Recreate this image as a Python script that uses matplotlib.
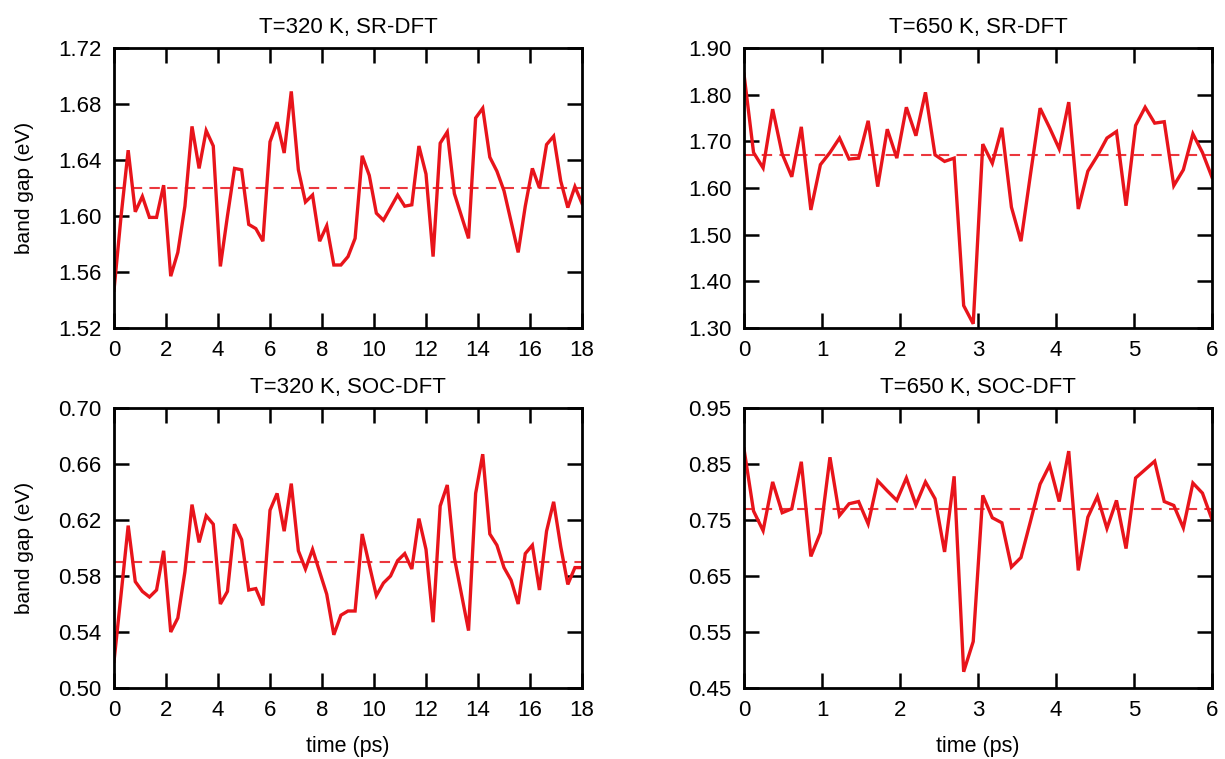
import numpy as np
import matplotlib
matplotlib.use('Agg')
import matplotlib.pyplot as plt

plt.rcParams['font.family'] = ['Liberation Sans', 'DejaVu Sans']

# band gap (eV) along the MD trajectories
gap_320_sr = [1.547, 1.600, 1.647, 1.603, 1.614, 1.599, 1.599, 1.622, 1.557, 1.574,
              1.607, 1.664, 1.634, 1.661, 1.650, 1.564, 1.600, 1.634, 1.633, 1.594,
              1.591, 1.582, 1.653, 1.667, 1.645, 1.689, 1.633, 1.610, 1.615, 1.582,
              1.593, 1.565, 1.565, 1.571, 1.584, 1.643, 1.629, 1.602, 1.597, 1.606,
              1.615, 1.607, 1.608, 1.650, 1.630, 1.571, 1.652, 1.660, 1.616, 1.600,
              1.584, 1.670, 1.677, 1.642, 1.632, 1.618, 1.596, 1.574, 1.607, 1.634,
              1.620, 1.651, 1.657, 1.625, 1.606, 1.621, 1.609]

gap_320_soc = [0.519, 0.567, 0.616, 0.576, 0.569, 0.565, 0.570, 0.598, 0.540, 0.550,
               0.583, 0.631, 0.604, 0.623, 0.617, 0.560, 0.569, 0.617, 0.606, 0.570,
               0.571, 0.559, 0.627, 0.639, 0.612, 0.646, 0.598, 0.585, 0.599, 0.583,
               0.567, 0.538, 0.552, 0.555, 0.555, 0.610, 0.588, 0.566, 0.575, 0.580,
               0.591, 0.596, 0.585, 0.621, 0.599, 0.547, 0.630, 0.645, 0.593, 0.567,
               0.541, 0.639, 0.667, 0.610, 0.602, 0.586, 0.577, 0.560, 0.596, 0.602,
               0.570, 0.612, 0.633, 0.601, 0.574, 0.586, 0.586]

gap_650_sr = [1.844, 1.676, 1.643, 1.769, 1.673, 1.624, 1.731, 1.553, 1.650, 1.676,
              1.707, 1.662, 1.664, 1.744, 1.603, 1.726, 1.664, 1.773, 1.712, 1.805,
              1.671, 1.657, 1.664, 1.348, 1.309, 1.694, 1.653, 1.729, 1.559, 1.486,
              1.630, 1.771, 1.729, 1.684, 1.784, 1.555, 1.636, 1.669, 1.707, 1.721,
              1.562, 1.734, 1.773, 1.739, 1.742, 1.605, 1.639, 1.716, 1.676, 1.623]

gap_650_soc = [0.877, 0.766, 0.731, 0.818, 0.763, 0.770, 0.854, 0.685, 0.727, 0.862,
               0.758, 0.779, 0.783, 0.743, 0.820, 0.802, 0.785, 0.825, 0.777, 0.818,
               0.788, 0.693, 0.828, 0.479, 0.533, 0.794, 0.754, 0.745, 0.666, 0.683,
               0.748, 0.814, 0.848, 0.783, 0.873, 0.660, 0.755, 0.792, 0.735, 0.785,
               0.699, 0.825, 0.840, 0.855, 0.783, 0.776, 0.736, 0.816, 0.798, 0.751]

# time-averaged gaps (dashed lines)
mean_320_sr, mean_320_soc = 1.62, 0.59
mean_650_sr, mean_650_soc = 1.67, 0.77

titles = ['T=320 K, SR-DFT', 'T=650 K, SR-DFT', 'T=320 K, SOC-DFT', 'T=650 K, SOC-DFT']

t_320 = np.linspace(0, 18, len(gap_320_sr))
t_650 = np.linspace(0, 6, len(gap_650_sr))

panels = [
    (t_320, gap_320_sr, mean_320_sr, (0, 18), np.arange(0, 19, 2), (1.52, 1.72), np.arange(1.52, 1.7201, 0.04)),
    (t_650, gap_650_sr, mean_650_sr, (0, 6), np.arange(0, 7, 1), (1.30, 1.90), np.arange(1.30, 1.9001, 0.10)),
    (t_320, gap_320_soc, mean_320_soc, (0, 18), np.arange(0, 19, 2), (0.50, 0.70), np.arange(0.50, 0.7001, 0.04)),
    (t_650, gap_650_soc, mean_650_soc, (0, 6), np.arange(0, 7, 1), (0.45, 0.95), np.arange(0.45, 0.9501, 0.10)),
]

W, H = 1225, 759
fig = plt.figure(figsize=(W / 100, H / 100), dpi=100)

# axes boxes in pixels: left, top, right, bottom
boxes = [(114, 48, 582, 328), (744, 48, 1212, 328),
         (114, 408, 582, 688), (744, 408, 1212, 688)]

red = '#e8141b'
for i, (box, p) in enumerate(zip(boxes, panels)):
    t, gap, mean, xlim, xticks, ylim, yticks = p
    l, tp, r, b = box
    ax = fig.add_axes([l / W, 1 - b / H, (r - l) / W, (b - tp) / H])

    ax.plot(t, gap, color=red, lw=2.4, solid_joinstyle='miter')
    ax.axhline(mean, color=red, lw=1.5, dashes=(5, 3.5), alpha=0.85)

    ax.set_xlim(*xlim)
    ax.set_ylim(*ylim)
    ax.set_xticks(xticks)
    ax.set_yticks(yticks)
    ax.set_yticklabels(['%.2f' % v for v in yticks])

    ax.tick_params(direction='in', length=11, width=1.8, top=True, right=True,
                   labelsize=16, pad=9, color='black')
    for s in ax.spines.values():
        s.set_linewidth(2.0)

    ax.set_title(titles[i], fontsize=16, pad=11)
    if i % 2 == 0:
        ax.set_ylabel('band gap (eV)', fontsize=15)
        ax.yaxis.set_label_coords(-0.17, 0.5)
    if i >= 2:
        ax.set_xlabel('time (ps)', fontsize=15.5)
        ax.xaxis.set_label_coords(0.5, -0.17)

fig.savefig('out.png', dpi=100)
